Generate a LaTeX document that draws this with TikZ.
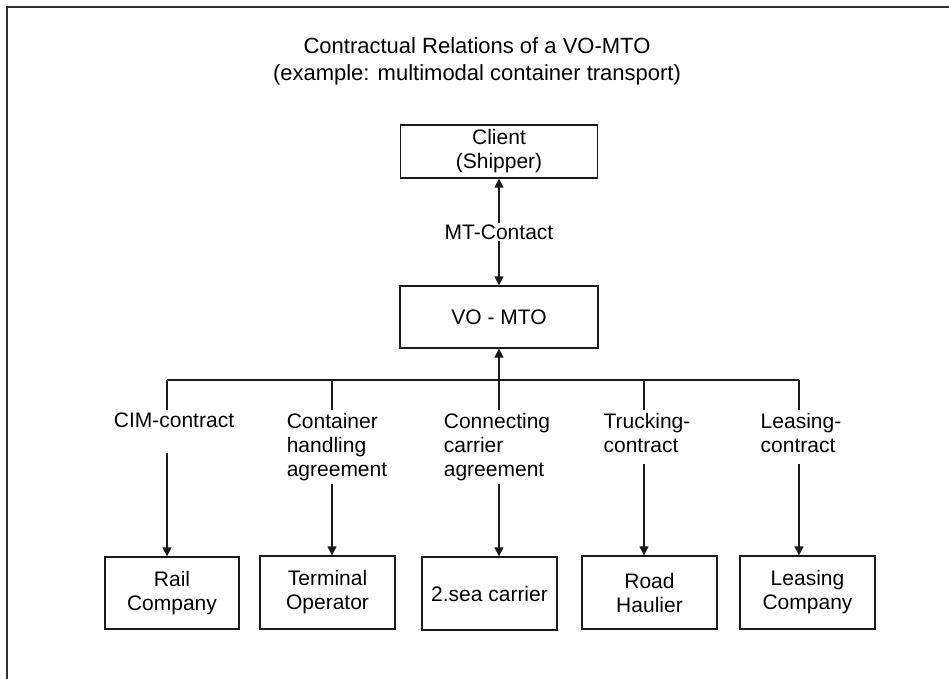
\documentclass[tikz,border=0pt]{standalone}
\usepackage{fontspec}
\setmainfont{Liberation Sans}
\usetikzlibrary{arrows.meta,positioning}
\definecolor{DarkGray}{HTML}{1A1A1A}
\definecolor{FrameGray}{HTML}{303030}
\tikzset{
  caja/.style     = {draw=DarkGray, line width=1.3pt, align=center,
                     font=\fontsize{21}{24}\selectfont, inner sep=0pt},
  empresa/.style  = {caja, minimum width=135pt, minimum height=73pt},
  contrato/.style = {align=left, font=\fontsize{21}{24}\selectfont,
                     inner sep=3pt, anchor=north},
  linea/.style    = {draw=DarkGray, line width=1.3pt},
  flecha/.style   = {linea, -{Triangle[length=9pt,width=9pt]}},
  flechad/.style  = {linea, {Triangle[length=9pt,width=9pt]}-{Triangle[length=9pt,width=9pt]}},
  lbl/.style      = {font=\fontsize{21}{24}\selectfont, fill=white, inner sep=2pt},
}

\begin{document}
\begin{tikzpicture}[x=1pt,y=-1pt]
  \useasboundingbox (0,0) rectangle (949,679);
  % page frame (only top and left edges show)
  \draw[line width=2.2pt, FrameGray] (7,679) -- (7,7) -- (949,7);

  \node[align=center, font=\fontsize{22}{27}\selectfont] (titulo) at (477,61)
    {Contractual Relations of a VO-MTO\\(example: multimodal container transport)};

  \node[caja, minimum width=197pt, minimum height=53pt] (cliente) at (499,151.5) {Client\\(Shipper)};
  \node[caja, minimum width=198pt, minimum height=62pt] (vomto) at (499,317) {VO - MTO};
  \draw[flechad] (cliente) -- node[lbl] (mtc) {MT-Contact} (vomto);

  % bus under the VO-MTO
  \coordinate (b1) at (167,380);
  \coordinate (b2) at (332,380);
  \coordinate (b3) at (499,380);
  \coordinate (b4) at (644,380);
  \coordinate (b5) at (799,380);
  \draw[linea] (b1) -- (b5);
  \draw[flecha] (b3) -- (vomto.south);

  % contracts
  \node[contrato] (cim) at (174,410) {CIM-contract};
  \node[contrato] (cha) at (337,410) {Container\\handling\\agreement};
  \node[contrato] (cca) at (497,410) {Connecting\\carrier\\agreement};
  \node[contrato] (tru) at (647,410) {Trucking-\\contract};
  \node[contrato] (lea) at (801,410) {Leasing-\\contract};
  \draw[linea] (b1) -- (b1 |- cim.north);
  \draw[linea] (b2) -- (b2 |- cha.north);
  \draw[linea] (b3) -- (b3 |- cca.north);
  \draw[linea] (b4) -- (b4 |- tru.north);
  \draw[linea] (b5) -- (b5 |- lea.north);

  % partners
  \node[empresa, minimum width=134pt, minimum height=72pt] (rail) at (172,593) {Rail\\Company};
  \node[empresa] (terminal) at (327.5,592.5) {Terminal\\Operator};
  \node[empresa] (mar) at (489.5,593.5) {2.sea carrier};
  \node[empresa] (road) at (649.5,592.5) {Road\\Haulier};
  \node[empresa] (leasing) at (807.5,592.5) {Leasing\\Company};

  \draw[flecha] ([yshift=-22pt]b1 |- cim.south) -- (b1 |- rail.north);
  \draw[flecha] (b2 |- cha.south) -- (b2 |- terminal.north);
  \draw[flecha] (b3 |- cca.south) -- (b3 |- mar.north);
  \draw[flecha] ([yshift=-8pt]b4 |- tru.south) -- (b4 |- road.north);
  \draw[flecha] ([yshift=-8pt]b5 |- lea.south) -- (b5 |- leasing.north);
\end{tikzpicture}
\end{document}
